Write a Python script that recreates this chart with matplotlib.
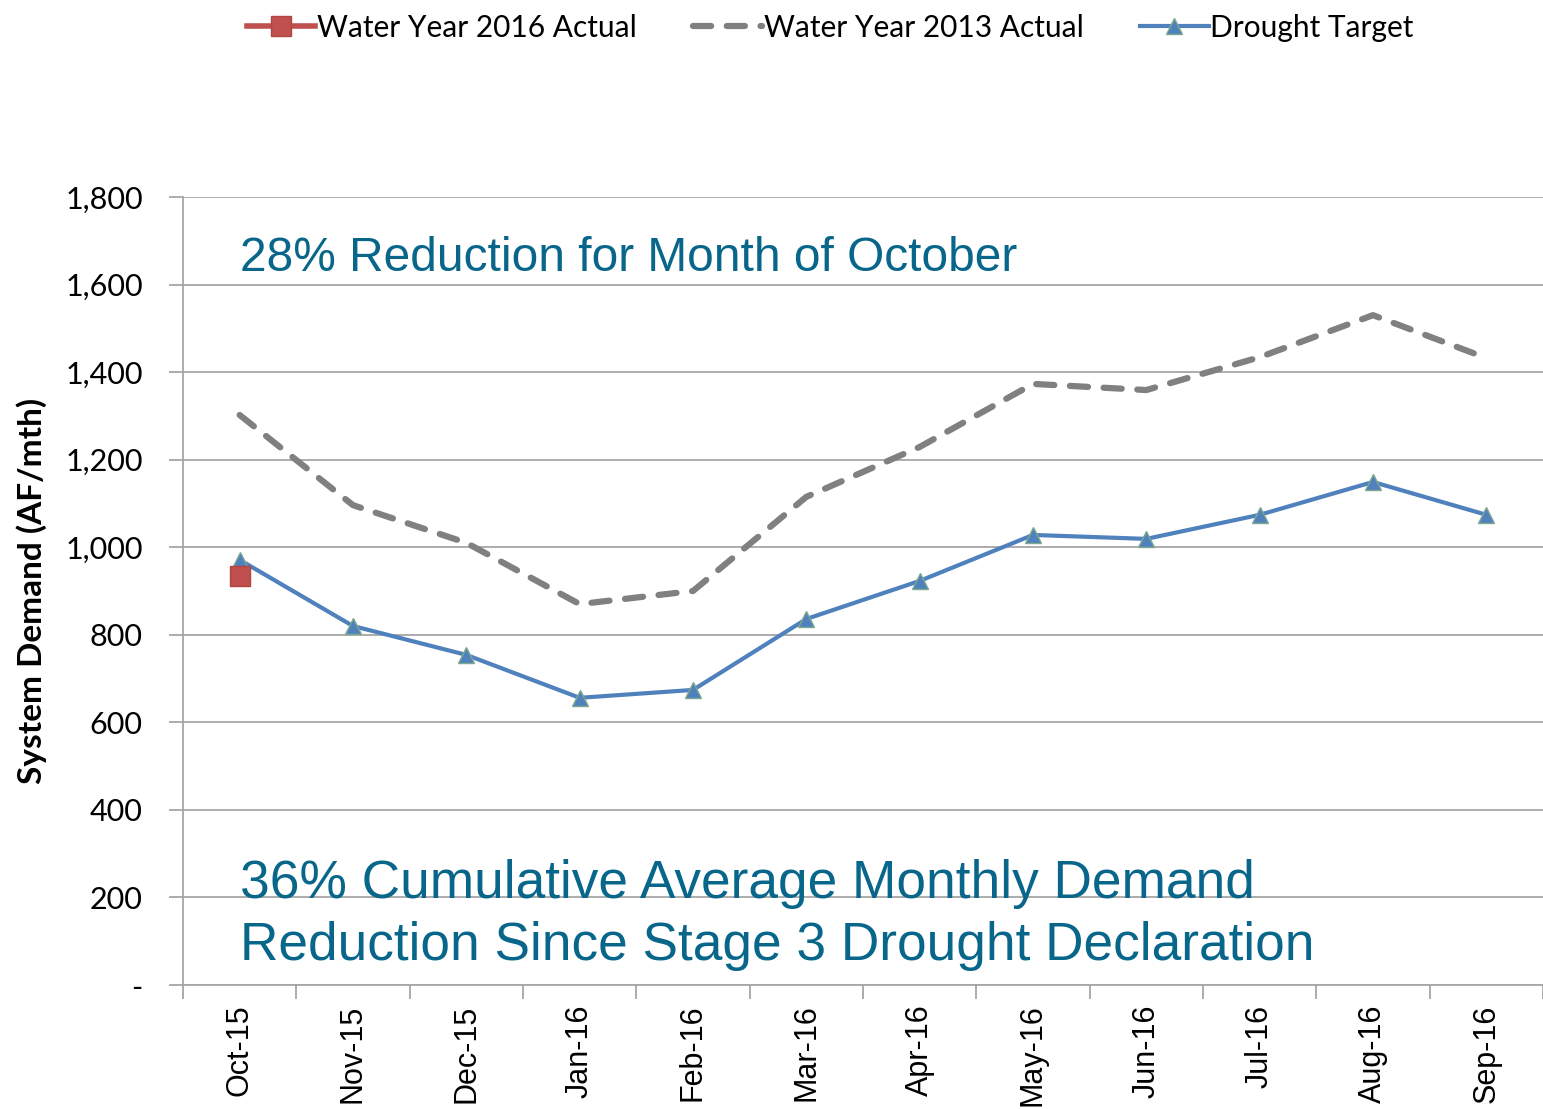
import matplotlib
matplotlib.use("Agg")
import matplotlib.pyplot as plt
from matplotlib.ticker import FuncFormatter, FixedLocator

months = ["Oct-15", "Nov-15", "Dec-15", "Jan-16", "Feb-16", "Mar-16",
          "Apr-16", "May-16", "Jun-16", "Jul-16", "Aug-16", "Sep-16"]
actual_2016 = [934]
actual_2013 = [1302, 1096, 1010, 870, 900, 1115, 1229, 1373, 1359, 1434, 1530, 1432]
drought_target = [971, 820, 754, 656, 674, 836, 923, 1028, 1019, 1074, 1149, 1074]
y_ticks = [0, 200, 400, 600, 800, 1000, 1200, 1400, 1600, 1800]

label_font = ["Lato", "DejaVu Sans"]
text_color = "#08668A"

fig = plt.figure(figsize=(15.43, 11.09), dpi=100)
ax = fig.add_axes([0.1186, 0.1118, 0.8814, 0.7106])

x = list(range(len(months)))
ax.plot(x, actual_2013, color="#808080", lw=4.5, ls=(0, (2.9, 2.5)),
        dash_capstyle="round", label="Water Year 2013 Actual", zorder=3)
ax.plot(x, drought_target, color="#4F81BD", lw=3, marker="^", ms=12,
        markerfacecolor="#4F81BD", markeredgecolor="#7FA890",
        label="Drought Target", zorder=4)
ax.plot(x[:len(actual_2016)], actual_2016, color="#C0504D", lw=4, marker="s",
        ms=15, markerfacecolor="#C0504D", markeredgecolor="#B04545",
        label="Water Year 2016 Actual", zorder=5)

ax.set_xlim(-0.5, len(months) - 0.5)
ax.set_ylim(0, 1800)
ax.set_yticks(y_ticks)
ax.yaxis.set_major_formatter(FuncFormatter(lambda v, p: "-" if v == 0 else f"{int(v):,}"))
ax.grid(axis="y", color="#A6A6A6", lw=1.3)
ax.set_axisbelow(True)

ax.set_xticks(x)
ax.set_xticklabels(months, rotation=90, fontsize=22, family="Liberation Sans")
ax.xaxis.set_minor_locator(FixedLocator([i - 0.5 for i in range(len(months) + 1)]))
ax.tick_params(axis="x", which="major", length=0, pad=14)
ax.tick_params(axis="x", which="minor", length=10, color="#A6A6A6", width=1.3)
ax.tick_params(axis="y", length=10, color="#A6A6A6", width=1.3, labelsize=22, pad=19)
for lab in ax.get_yticklabels():
    lab.set_family(label_font)

for side in ["top", "right"]:
    ax.spines[side].set_visible(False)
for side in ["left", "bottom"]:
    ax.spines[side].set_color("#A6A6A6")
    ax.spines[side].set_linewidth(1.3)

ax.set_ylabel("System Demand (AF/mth)", fontsize=24, fontweight="bold",
              family=label_font, labelpad=13)

ax.text(0, 1660, "28% Reduction for Month of October", fontsize=34.5,
        color=text_color, family="Liberation Sans", va="center", ha="left")
ax.text(0, 160, "36% Cumulative Average Monthly Demand\nReduction Since Stage 3 Drought Declaration",
        fontsize=38.3, color=text_color, family="Liberation Sans", va="center",
        ha="left", linespacing=1.3)

handles, labels = ax.get_legend_handles_labels()
order = [2, 0, 1]
leg = fig.legend([handles[i] for i in order], [labels[i] for i in order],
                 loc="upper center", bbox_to_anchor=(0.538, 1.012), ncol=3,
                 frameon=False, prop={"family": label_font, "size": 21.5},
                 handlelength=2.3, handletextpad=0.05, columnspacing=1.9)

fig.savefig("out.png", dpi=100)
